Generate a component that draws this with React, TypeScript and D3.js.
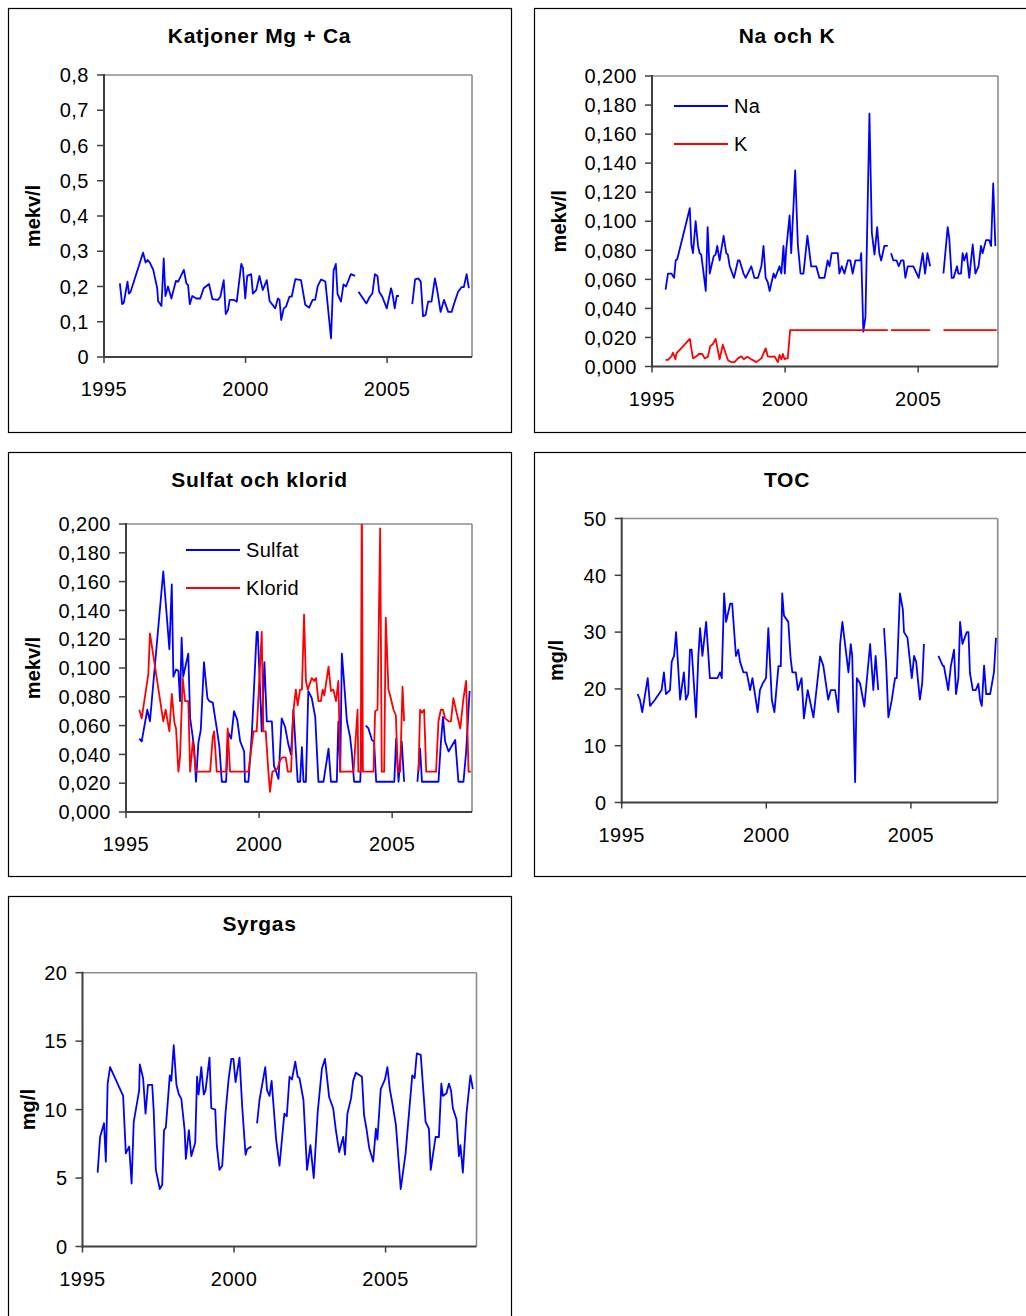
import React from 'react';
import * as d3 from 'd3';

type Pt = [number, number | null];

const xDomain: [number, number] = [1995, 2008];
const xTickYears = [1995, 2000, 2005];

const katjoner: Pt[] = [
  [1995.56,0.209],[1995.64,0.150],[1995.70,0.154],[1995.83,0.214],[1995.88,0.180],[1995.94,0.185],[1996.38,0.296],[1996.47,0.268],[1996.54,0.275],[1996.62,0.268],[1996.74,0.247],[1996.88,0.195],[1996.91,0.159],[1997.03,0.145],[1997.11,0.280],[1997.17,0.173],[1997.26,0.200],[1997.38,0.166],[1997.54,0.216],[1997.62,0.214],[1997.82,0.247],[1997.91,0.209],[1997.97,0.204],[1998.03,0.150],[1998.12,0.173],[1998.26,0.166],[1998.40,0.166],[1998.52,0.195],[1998.71,0.207],[1998.83,0.164],[1999.02,0.162],[1999.11,0.171],[1999.23,0.218],[1999.30,0.122],[1999.38,0.133],[1999.44,0.162],[1999.59,0.162],[1999.69,0.157],[1999.85,0.264],[1999.91,0.252],[1999.99,0.166],[2000.06,0.230],[2000.20,0.235],[2000.26,0.180],[2000.38,0.190],[2000.49,0.230],[2000.61,0.190],[2000.75,0.218],[2000.85,0.159],[2001.05,0.138],[2001.14,0.166],[2001.20,0.162],[2001.26,0.105],[2001.35,0.138],[2001.43,0.143],[2001.55,0.171],[2001.63,0.171],[2001.76,0.221],[2001.96,0.218],[2002.11,0.148],[2002.25,0.140],[2002.37,0.162],[2002.46,0.162],[2002.55,0.201],[2002.67,0.220],[2002.82,0.214],[2003.02,0.053],[2003.11,0.245],[2003.19,0.264],[2003.25,0.179],[2003.37,0.157],[2003.46,0.206],[2003.55,0.200],[2003.72,0.235],[2003.87,0.230],[2003.93,null],[2003.99,0.185],[2004.27,0.152],[2004.39,0.171],[2004.48,0.180],[2004.57,0.235],[2004.66,0.230],[2004.72,0.185],[2004.83,0.171],[2004.99,0.138],[2005.14,0.195],[2005.19,0.180],[2005.27,0.138],[2005.34,0.173],[2005.42,0.173],[2005.6,null],[2005.89,0.150],[2005.99,0.220],[2006.10,0.223],[2006.19,0.214],[2006.27,0.116],[2006.36,0.119],[2006.45,0.157],[2006.57,0.157],[2006.69,0.223],[2006.77,0.190],[2006.89,0.128],[2007.01,0.162],[2007.16,0.128],[2007.28,0.128],[2007.39,0.157],[2007.51,0.185],[2007.63,0.198],[2007.71,0.198],[2007.81,0.235],[2007.89,0.195]
];

const natrium: Pt[] = [
  [1995.51,0.053],[1995.60,0.064],[1995.73,0.064],[1995.83,0.061],[1995.89,0.073],[1995.95,0.074],[1996.42,0.109],[1996.48,0.084],[1996.54,0.078],[1996.64,0.100],[1996.73,0.083],[1996.79,0.078],[1996.85,0.077],[1996.94,0.064],[1997.02,0.052],[1997.09,0.096],[1997.17,0.064],[1997.23,0.069],[1997.32,0.076],[1997.39,0.077],[1997.45,0.083],[1997.54,0.073],[1997.69,0.090],[1997.79,0.078],[1997.85,0.077],[1997.92,0.069],[1998.08,0.061],[1998.23,0.073],[1998.29,0.073],[1998.44,0.064],[1998.52,0.061],[1998.73,0.069],[1998.85,0.061],[1998.98,0.061],[1999.11,0.069],[1999.19,0.083],[1999.27,0.061],[1999.35,0.058],[1999.42,0.052],[1999.48,0.057],[1999.57,0.064],[1999.63,0.061],[1999.69,0.064],[1999.79,0.069],[1999.86,0.064],[1999.94,0.083],[1999.99,0.064],[2000.04,0.080],[2000.17,0.104],[2000.23,0.078],[2000.38,0.135],[2000.48,0.084],[2000.58,0.064],[2000.69,0.064],[2000.84,0.090],[2000.98,0.069],[2001.17,0.069],[2001.29,0.061],[2001.48,0.061],[2001.60,0.073],[2001.67,0.069],[2001.75,0.078],[2001.98,0.078],[2002.04,0.064],[2002.13,0.069],[2002.23,0.064],[2002.36,0.073],[2002.45,0.073],[2002.54,0.064],[2002.64,0.073],[2002.83,0.073],[2002.86,0.078],[2002.94,0.024],[2003.02,0.034],[2003.17,0.174],[2003.26,0.092],[2003.36,0.077],[2003.46,0.096],[2003.54,0.078],[2003.61,0.073],[2003.73,0.083],[2003.86,0.083],[2003.92,null],[2003.98,0.078],[2004.07,0.073],[2004.19,0.073],[2004.27,0.069],[2004.36,0.073],[2004.45,0.073],[2004.52,0.061],[2004.61,0.069],[2004.82,0.069],[2005.02,0.061],[2005.17,0.078],[2005.26,0.064],[2005.35,0.078],[2005.45,0.069],[2005.7,null],[2005.95,0.064],[2006.11,0.096],[2006.17,0.088],[2006.26,0.061],[2006.33,0.061],[2006.46,0.069],[2006.51,0.064],[2006.61,0.064],[2006.67,0.078],[2006.73,0.073],[2006.82,0.078],[2006.92,0.061],[2007.05,0.084],[2007.15,0.064],[2007.27,0.069],[2007.36,0.083],[2007.42,0.078],[2007.55,0.087],[2007.67,0.087],[2007.74,0.083],[2007.82,0.126],[2007.90,0.083]
];

const kalium: Pt[] = [
  [1995.51,0.0045],[1995.60,0.0045],[1995.73,0.007],[1995.79,0.0095],[1995.88,0.005],[1995.92,0.009],[1996.42,0.019],[1996.54,0.0056],[1996.67,0.007],[1996.76,0.0086],[1996.89,0.0086],[1996.98,0.0056],[1997.10,0.0067],[1997.19,0.014],[1997.29,0.0155],[1997.39,0.019],[1997.54,0.005],[1997.66,0.015],[1997.85,0.0045],[1997.98,0.003],[1998.10,0.003],[1998.23,0.0056],[1998.36,0.007],[1998.45,0.005],[1998.58,0.0067],[1998.73,0.005],[1998.92,0.003],[1999.11,0.0056],[1999.27,0.0125],[1999.35,0.007],[1999.48,0.0067],[1999.60,0.007],[1999.73,0.003],[1999.79,0.008],[1999.86,0.005],[1999.92,0.0086],[1999.98,0.005],[2000.04,0.0056],[2000.10,0.0056],[2000.19,0.025],[2003.86,0.025],[2003.92,null],[2003.98,0.025],[2005.45,0.025],[2005.7,null],[2005.95,0.025],[2007.95,0.025]
];

const sulfat: Pt[] = [
  [1995.50,0.051],[1995.59,0.049],[1995.80,0.071],[1995.90,0.063],[1996.40,0.167],[1996.63,0.113],[1996.72,0.158],[1996.78,0.094],[1996.88,0.099],[1996.97,0.098],[1997.03,0.077],[1997.09,0.121],[1997.15,0.094],[1997.22,0.100],[1997.34,0.110],[1997.41,0.065],[1997.56,0.045],[1997.63,0.021],[1997.72,0.048],[1997.81,0.057],[1997.93,0.104],[1998.06,0.079],[1998.13,0.077],[1998.26,0.076],[1998.41,0.058],[1998.51,0.045],[1998.60,0.021],[1998.76,0.021],[1998.85,0.055],[1998.95,0.051],[1999.06,0.070],[1999.18,0.064],[1999.29,0.049],[1999.44,0.042],[1999.47,0.021],[1999.60,0.021],[1999.73,0.055],[1999.91,0.125],[1999.95,0.125],[2000.10,0.056],[2000.20,0.104],[2000.29,0.063],[2000.48,0.063],[2000.56,0.032],[2000.64,0.028],[2000.73,0.023],[2000.85,0.065],[2000.98,0.059],[2001.10,0.047],[2001.20,0.040],[2001.29,0.071],[2001.45,0.021],[2001.54,0.021],[2001.61,0.045],[2001.67,0.021],[2001.76,0.021],[2001.85,0.084],[2001.98,0.079],[2002.11,0.066],[2002.23,0.021],[2002.42,0.021],[2002.61,0.044],[2002.70,0.021],[2002.92,0.021],[2002.98,0.063],[2003.05,0.028],[2003.11,0.110],[2003.17,0.096],[2003.30,0.063],[2003.42,0.052],[2003.48,0.042],[2003.57,0.021],[2003.80,0.021],[2003.86,0.049],[2003.93,null],[2004.01,0.060],[2004.11,0.058],[2004.24,0.050],[2004.32,0.049],[2004.40,0.021],[2005.08,0.021],[2005.15,0.051],[2005.24,0.021],[2005.36,0.049],[2005.45,0.021],[2005.7,null],[2005.95,0.021],[2006.05,0.044],[2006.12,0.021],[2006.74,0.021],[2006.83,0.048],[2006.91,0.066],[2006.99,0.049],[2007.12,0.042],[2007.37,0.050],[2007.49,0.021],[2007.68,0.021],[2007.78,0.042],[2007.91,0.084]
];

const klorid: Pt[] = [
  [1995.50,0.071],[1995.59,0.065],[1995.84,0.096],[1995.90,0.124],[1996.09,0.101],[1996.40,0.063],[1996.49,0.071],[1996.63,0.056],[1996.72,0.082],[1996.82,0.062],[1996.88,0.058],[1996.97,0.028],[1997.03,0.038],[1997.13,0.093],[1997.22,0.077],[1997.34,0.077],[1997.41,0.028],[1997.51,0.049],[1997.63,0.028],[1998.16,0.028],[1998.26,0.052],[1998.31,0.056],[1998.41,0.028],[1998.76,0.028],[1998.82,0.058],[1998.91,0.028],[1999.60,0.028],[1999.79,0.056],[1999.91,0.056],[2000.10,0.125],[2000.16,0.056],[2000.25,0.056],[2000.35,0.028],[2000.41,0.014],[2000.50,0.028],[2000.60,0.029],[2000.69,0.030],[2000.79,0.036],[2000.88,0.038],[2001.00,0.038],[2001.08,0.028],[2001.20,0.028],[2001.29,0.070],[2001.38,0.085],[2001.45,0.074],[2001.54,0.085],[2001.61,0.085],[2001.69,0.137],[2001.76,0.091],[2001.83,0.085],[2001.98,0.093],[2002.07,0.091],[2002.14,0.093],[2002.23,0.077],[2002.32,0.077],[2002.39,0.085],[2002.45,0.081],[2002.61,0.101],[2002.70,0.084],[2002.79,0.085],[2002.89,0.077],[2002.98,0.091],[2003.05,0.028],[2003.30,0.028],[2003.55,0.028],[2003.70,0.071],[2003.73,0.028],[2003.82,0.028],[2003.86,0.230],[2003.90,0.028],[2004.01,0.028],[2004.30,0.028],[2004.36,0.070],[2004.45,0.071],[2004.55,0.197],[2004.61,0.028],[2004.70,0.028],[2004.76,0.135],[2004.86,0.085],[2004.95,0.079],[2005.05,0.071],[2005.14,0.067],[2005.21,0.028],[2005.30,0.028],[2005.39,0.087],[2005.45,0.063],[2005.7,null],[2005.99,0.028],[2006.05,0.071],[2006.12,0.069],[2006.20,0.071],[2006.28,0.028],[2006.65,0.028],[2006.74,0.063],[2006.83,0.071],[2006.91,0.071],[2006.99,0.065],[2007.12,0.063],[2007.21,0.063],[2007.30,0.079],[2007.41,0.070],[2007.56,0.058],[2007.68,0.079],[2007.78,0.091],[2007.87,0.028],[2007.96,0.028]
];

const toc: Pt[] = [
  [1995.55,19.1],[1995.63,18.1],[1995.71,15.9],[1995.90,21.9],[1995.98,17.0],[1996.15,18.1],[1996.38,19.8],[1996.46,22.9],[1996.53,19.1],[1996.67,19.8],[1996.73,24.8],[1996.81,25.8],[1996.88,30.0],[1997.02,18.1],[1997.15,22.9],[1997.22,18.1],[1997.30,19.1],[1997.36,26.9],[1997.42,26.9],[1997.57,15.0],[1997.65,25.7],[1997.71,30.7],[1997.79,25.8],[1997.92,31.8],[1998.05,21.9],[1998.31,21.9],[1998.40,22.9],[1998.46,21.9],[1998.54,36.8],[1998.61,31.8],[1998.75,35.0],[1998.82,35.0],[1998.95,25.8],[1999.03,26.9],[1999.09,24.8],[1999.21,22.9],[1999.32,22.9],[1999.44,19.8],[1999.52,21.9],[1999.61,19.0],[1999.70,15.9],[1999.78,19.8],[1999.88,21.0],[1999.99,21.9],[2000.07,30.7],[2000.19,18.1],[2000.28,15.9],[2000.42,24.0],[2000.50,24.0],[2000.55,36.8],[2000.61,32.9],[2000.76,31.8],[2000.84,25.4],[2000.90,22.9],[2001.02,22.9],[2001.09,19.8],[2001.22,21.9],[2001.30,14.8],[2001.43,19.8],[2001.63,15.0],[2001.86,25.7],[2001.97,24.1],[2002.14,18.1],[2002.23,19.8],[2002.38,19.8],[2002.49,15.9],[2002.55,27.8],[2002.63,31.8],[2002.84,22.9],[2002.92,27.9],[2002.97,25.8],[2003.07,3.6],[2003.13,21.9],[2003.24,21.0],[2003.39,16.9],[2003.59,27.9],[2003.70,19.8],[2003.78,25.8],[2003.87,19.8],[2003.95,null],[2004.07,30.7],[2004.14,24.8],[2004.22,15.0],[2004.34,18.1],[2004.45,21.9],[2004.51,21.9],[2004.62,36.8],[2004.72,34.0],[2004.76,30.0],[2004.88,29.0],[2005.03,21.9],[2005.11,25.8],[2005.18,24.8],[2005.31,18.1],[2005.39,21.0],[2005.45,27.9],[2005.7,null],[2005.95,25.8],[2006.10,24.1],[2006.14,24.0],[2006.29,19.8],[2006.38,24.0],[2006.49,26.9],[2006.56,19.1],[2006.64,21.9],[2006.70,31.8],[2006.78,27.9],[2006.93,30.0],[2006.99,30.0],[2007.04,22.8],[2007.14,19.8],[2007.24,19.8],[2007.33,20.9],[2007.39,18.1],[2007.45,17.0],[2007.53,24.1],[2007.60,19.1],[2007.74,19.1],[2007.87,22.9],[2007.94,29.0]
];

const syrgas: Pt[] = [
  [1995.50,5.4],[1995.58,8.0],[1995.71,9.0],[1995.77,6.2],[1995.83,11.9],[1995.91,13.1],[1996.34,11.0],[1996.43,6.8],[1996.54,7.3],[1996.62,4.6],[1996.69,9.1],[1996.87,11.4],[1996.89,13.3],[1997.00,12.3],[1997.08,9.7],[1997.16,11.8],[1997.30,11.8],[1997.35,9.9],[1997.42,5.6],[1997.55,4.2],[1997.63,4.5],[1997.69,8.5],[1997.75,8.7],[1997.88,12.5],[1997.93,12.1],[1998.01,14.7],[1998.10,11.8],[1998.18,11.1],[1998.26,10.8],[1998.37,8.5],[1998.41,6.4],[1998.51,8.5],[1998.59,6.6],[1998.72,7.6],[1998.78,12.4],[1998.83,11.1],[1998.92,13.1],[1999.00,11.1],[1999.06,11.4],[1999.19,13.8],[1999.25,10.1],[1999.38,10.0],[1999.43,7.4],[1999.52,5.6],[1999.61,5.9],[1999.72,9.8],[1999.82,12.2],[1999.91,13.7],[1999.98,13.7],[2000.05,12.0],[2000.18,13.8],[2000.27,10.2],[2000.38,6.7],[2000.43,7.1],[2000.57,7.3],[2000.65,null],[2000.76,9.0],[2000.84,10.7],[2001.03,13.1],[2001.09,11.4],[2001.17,11.0],[2001.24,12.1],[2001.39,7.8],[2001.50,5.9],[2001.66,9.7],[2001.74,9.5],[2001.83,12.4],[2001.91,12.2],[2002.02,13.5],[2002.10,12.4],[2002.16,12.3],[2002.29,10.7],[2002.41,5.6],[2002.52,7.4],[2002.63,5.0],[2002.76,9.8],[2002.90,13.0],[2003.00,13.7],[2003.14,10.9],[2003.27,10.1],[2003.36,8.5],[2003.47,6.9],[2003.60,8.0],[2003.66,6.7],[2003.74,9.7],[2003.86,10.8],[2003.93,12.1],[2004.02,12.7],[2004.22,12.4],[2004.29,9.6],[2004.37,8.6],[2004.46,7.2],[2004.59,6.2],[2004.68,8.6],[2004.73,7.8],[2004.84,11.5],[2004.98,12.2],[2005.06,13.1],[2005.14,11.5],[2005.22,10.5],[2005.34,8.9],[2005.50,4.2],[2005.66,6.8],[2005.88,12.5],[2005.96,12.3],[2006.03,14.1],[2006.16,14.0],[2006.32,9.1],[2006.43,8.6],[2006.49,5.6],[2006.65,8.0],[2006.76,8.0],[2006.84,11.9],[2006.89,11.0],[2007.01,11.2],[2007.09,11.9],[2007.16,11.4],[2007.22,10.1],[2007.34,9.3],[2007.42,6.6],[2007.47,7.4],[2007.55,5.4],[2007.67,9.7],[2007.80,12.5],[2007.88,11.5]
];

const FONT = '"Liberation Sans", Arial, Helvetica, sans-serif';

type Series = { name: string; data: Pt[]; color: string };
type PanelProps = {
  id: string;
  box: { x: number; y: number; w: number; h: number };
  plot: { l: number; r: number; t: number; b: number };
  title: string;
  yLabel: string;
  yLabelX: number;
  yDomain: [number, number];
  yTickCount: number;
  yFormat: (v: number) => string;
  series: Series[];
  legend?: { x1: number; x2: number; ys: number[] };
};

const comma = (f: (v: number) => string) => (v: number) => f(v).replace('.', ',');
const fmt1 = (v: number) => (v === 0 ? '0' : comma(d3.format('.1f'))(v));
const fmt3 = comma(d3.format('.3f'));
const fmtInt = d3.format('d');

function Panel(p: PanelProps) {
  const x = d3.scaleLinear().domain(xDomain).range([p.plot.l, p.plot.r]);
  const y = d3.scaleLinear().domain(p.yDomain).range([p.plot.b, p.plot.t]);
  const yTicks = d3.ticks(p.yDomain[0], p.yDomain[1], p.yTickCount);
  const line = d3
    .line<Pt>()
    .defined((d) => d[1] != null)
    .x((d) => x(d[0]))
    .y((d) => y(d[1] as number));
  const { l, r, t, b } = p.plot;
  const cx = p.box.x + p.box.w / 2;
  return (
    <g fontFamily={FONT}>
      <rect x={p.box.x + 0.5} y={p.box.y + 0.5} width={p.box.w} height={p.box.h} fill="#fff" stroke="#000" strokeWidth={1.2} />
      <text x={cx} y={p.box.y + 35} textAnchor="middle" fontSize={21} letterSpacing={0.7} fontWeight="bold" fill="#000">
        {p.title}
      </text>
      <text
        transform={`translate(${p.yLabelX},${(t + b) / 2}) rotate(-90)`}
        textAnchor="middle"
        fontSize={20}
        fontWeight="bold"
        fill="#000"
      >
        {p.yLabel}
      </text>
      <clipPath id={p.id}>
        <rect x={l} y={t} width={r - l} height={b - t} />
      </clipPath>
      <line x1={l} x2={r} y1={t} y2={t} stroke="#8c8c8c" strokeWidth={1.6} />
      <line x1={r} x2={r} y1={t} y2={b} stroke="#8c8c8c" strokeWidth={1.6} />
      <g clipPath={`url(#${p.id})`}>
        {p.series.map((s) => (
          <path key={s.name} d={line(s.data) || ''} fill="none" stroke={s.color} strokeWidth={1.8} strokeLinejoin="round" />
        ))}
      </g>
      <line x1={l} x2={l} y1={t - 1} y2={b + 1} stroke="#404040" strokeWidth={2} />
      <line x1={l - 1} x2={r} y1={b} y2={b} stroke="#404040" strokeWidth={2} />
      {yTicks.map((v) => (
        <g key={v}>
          <line x1={l - 7} x2={l} y1={y(v)} y2={y(v)} stroke="#404040" strokeWidth={1.5} />
          <text x={l - 15} y={y(v)} dy="0.36em" textAnchor="end" fontSize={20} letterSpacing={0.5} fill="#000">
            {p.yFormat(v)}
          </text>
        </g>
      ))}
      {xTickYears.map((v) => (
        <g key={v}>
          <line x1={x(v)} x2={x(v)} y1={b} y2={b + 6} stroke="#404040" strokeWidth={1.5} />
          <text x={x(v)} y={b + 39} textAnchor="middle" fontSize={20} letterSpacing={0.5} fill="#000">
            {v}
          </text>
        </g>
      ))}
      {p.legend &&
        p.series.map((s, i) => (
          <g key={'lg' + s.name}>
            <line x1={p.legend!.x1} x2={p.legend!.x2} y1={p.legend!.ys[i]} y2={p.legend!.ys[i]} stroke={s.color} strokeWidth={1.8} />
            <text x={p.legend!.x2 + 6} y={p.legend!.ys[i]} dy="0.36em" fontSize={20} letterSpacing={0.3} fill="#000">
              {s.name}
            </text>
          </g>
        ))}
    </g>
  );
}

export default function App() {
  return (
    <svg width={1026} height={1316} style={{ position: 'absolute', left: 0, top: 0, background: '#fff' }}>
      <Panel
        id="c1"
        box={{ x: 8, y: 8, w: 503, h: 424 }}
        plot={{ l: 104, r: 472, t: 75, b: 357 }}
        title="Katjoner Mg + Ca"
        yLabel="mekv/l"
        yLabelX={40}
        yDomain={[0, 0.8]}
        yTickCount={8}
        yFormat={fmt1}
        series={[{ name: 'Mg+Ca', data: katjoner, color: '#0000ff' }]}
      />
      <Panel
        id="c2"
        box={{ x: 534, y: 8, w: 506, h: 424 }}
        plot={{ l: 652, r: 998, t: 76, b: 366.5 }}
        title="Na och K"
        yLabel="mekv/l"
        yLabelX={566}
        yDomain={[0, 0.2]}
        yTickCount={10}
        yFormat={fmt3}
        series={[
          { name: 'Na', data: natrium, color: '#0000ff' },
          { name: 'K', data: kalium, color: '#ff0000' },
        ]}
        legend={{ x1: 674, x2: 728, ys: [106, 144] }}
      />
      <Panel
        id="c3"
        box={{ x: 8, y: 452, w: 503, h: 424 }}
        plot={{ l: 126, r: 472, t: 524, b: 812 }}
        title="Sulfat och klorid"
        yLabel="mekv/l"
        yLabelX={40}
        yDomain={[0, 0.2]}
        yTickCount={10}
        yFormat={fmt3}
        series={[
          { name: 'Sulfat', data: sulfat, color: '#0000ff' },
          { name: 'Klorid', data: klorid, color: '#ff0000' },
        ]}
        legend={{ x1: 186, x2: 240, ys: [550, 588] }}
      />
      <Panel
        id="c4"
        box={{ x: 534, y: 452, w: 506, h: 424 }}
        plot={{ l: 621.7, r: 997.7, t: 518.5, b: 802.5 }}
        title="TOC"
        yLabel="mg/l"
        yLabelX={563}
        yDomain={[0, 50]}
        yTickCount={5}
        yFormat={fmtInt}
        series={[{ name: 'TOC', data: toc, color: '#0000ff' }]}
      />
      <Panel
        id="c5"
        box={{ x: 8, y: 896, w: 503, h: 430 }}
        plot={{ l: 82.5, r: 476.5, t: 972.7, b: 1246.5 }}
        title="Syrgas"
        yLabel="mg/l"
        yLabelX={35}
        yDomain={[0, 20]}
        yTickCount={4}
        yFormat={fmtInt}
        series={[{ name: 'Syrgas', data: syrgas, color: '#0000ff' }]}
      />
    </svg>
  );
}
